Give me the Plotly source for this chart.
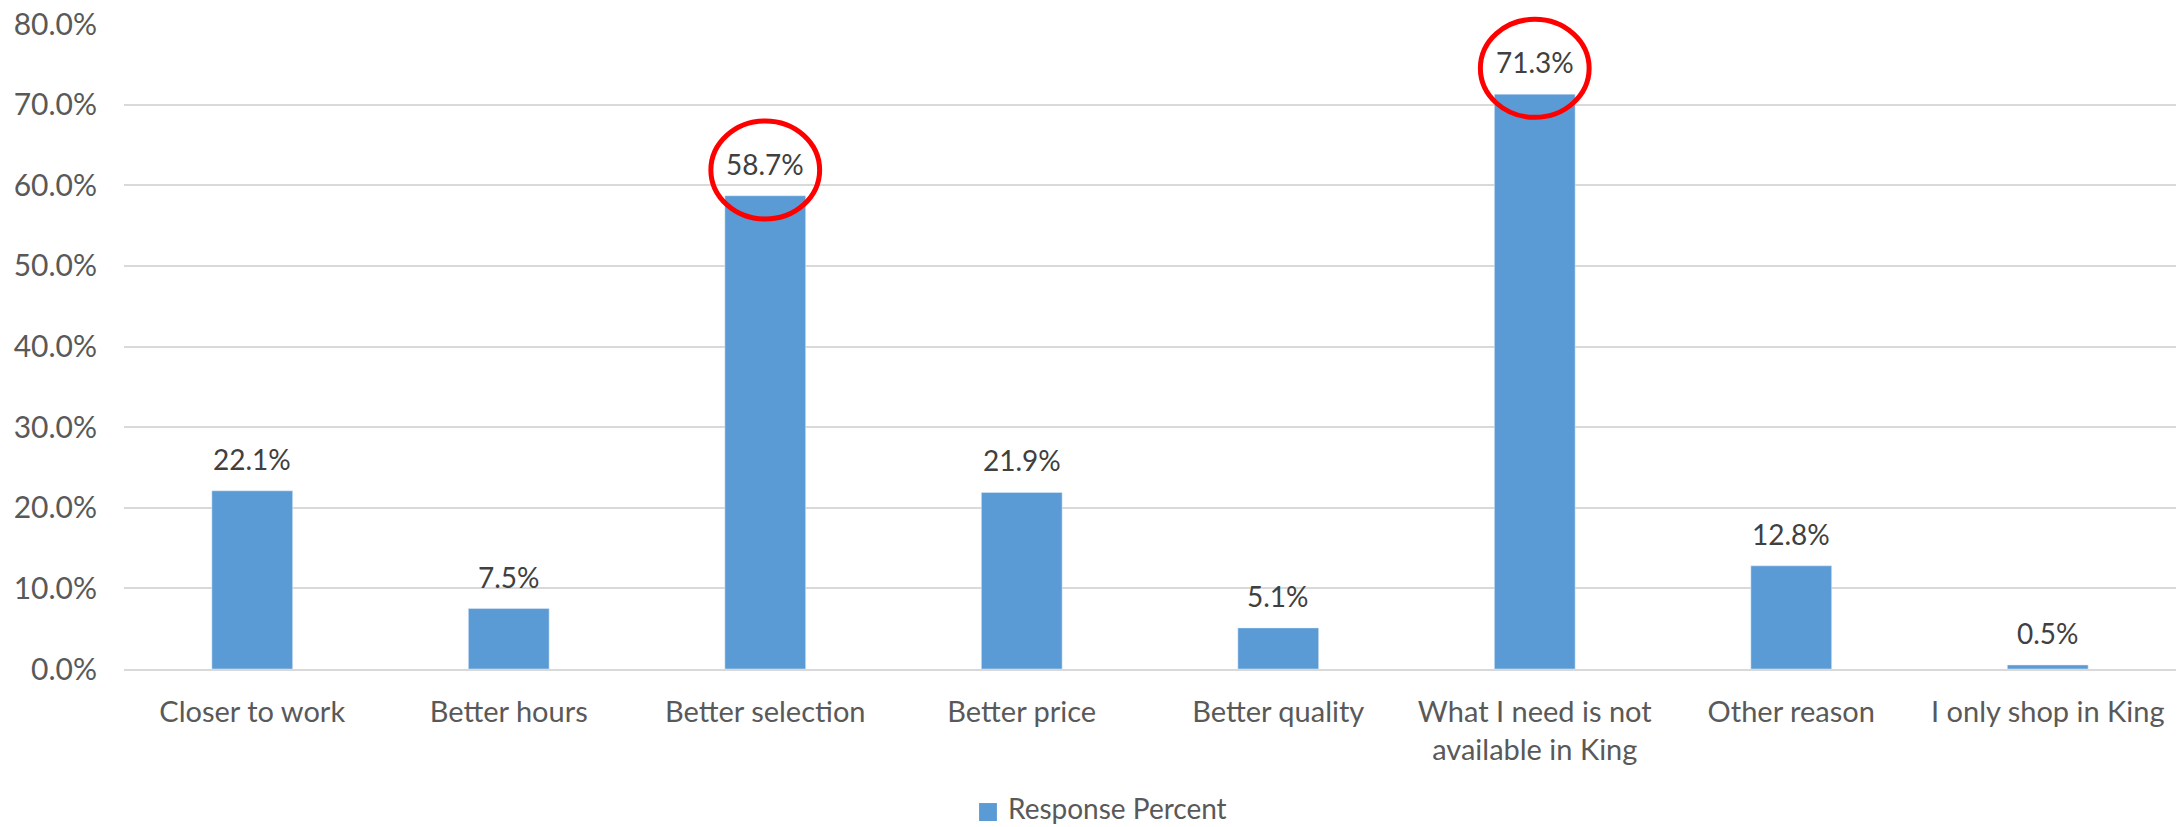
import plotly.graph_objects as go

# survey: reasons for shopping outside King
categories = ['Closer to work', 'Better hours', 'Better selection', 'Better price',
              'Better quality', 'What I need is not<br>available in King', 'Other reason',
              'I only shop in King']
response_pct = [22.1, 7.5, 58.7, 21.9, 5.1, 71.3, 12.8, 0.5]
highlight = [2, 5]   # labels circled in red
y_ticks = [0, 10, 20, 30, 40, 50, 60, 70, 80]

font_name = 'Lato'
grey = '#595959'
blue = '#5B9BD5'

fig = go.Figure()
fig.add_trace(go.Bar(x=categories, y=response_pct, name='Response Percent',
                     marker_color=blue, width=0.315, showlegend=False))

# data labels above the bars
for cat, v in zip(categories, response_pct):
    fig.add_annotation(x=cat, y=v, text='%.1f%%' % v, showarrow=False,
                       yanchor='bottom', yshift=13,
                       font=dict(family=font_name, size=28, color='#404040'))

# red circles round the two biggest answers (paper coords so they don't get clipped)
ymax = 80
for i in highlight:
    cx = (i + 0.5) / len(categories)
    cy = (response_pct[i] + 3.2) / ymax
    fig.add_shape(type='circle', xref='paper', yref='paper',
                  x0=cx - 0.0265, x1=cx + 0.0265,
                  y0=cy - 0.076, y1=cy + 0.076,
                  line=dict(color='#FF0000', width=5))

# legend drawn by hand so the swatch is as big as excel's
fig.add_shape(type='rect', xref='paper', yref='paper',
              x0=0.4167, x1=0.4254, y0=-0.2357, y1=-0.2078,
              line=dict(width=0), fillcolor=blue)
fig.add_annotation(xref='paper', yref='paper', x=0.4298, y=-0.2155,
                   xanchor='left', yanchor='middle', showarrow=False,
                   text='Response Percent',
                   font=dict(family=font_name, size=28, color=grey))

fig.update_layout(
    width=2178, height=827,
    margin=dict(l=124, r=2, t=24, b=158),
    plot_bgcolor='white', paper_bgcolor='white',
    font=dict(family=font_name, size=29, color=grey),
    bargap=0.685,
    showlegend=False,
)
fig.update_xaxes(showline=True, linecolor='#d9d9d9', linewidth=2, showgrid=False,
                 ticks='', tickfont=dict(size=29, color=grey), ticklabelstandoff=16,
                 automargin=False)
fig.update_yaxes(range=[0, ymax], tickvals=y_ticks,
                 ticktext=['%.1f%%' % t for t in y_ticks],
                 showgrid=True, gridcolor='#d9d9d9', gridwidth=2, zeroline=False,
                 showline=False, ticks='', tickfont=dict(size=30, color=grey),
                 ticklabelstandoff=26, automargin=False)

# page has an 8px body margin by default, drop it so the figure fills the window
fig.write_html('out.html', config={'displayModeBar': False},
               post_script="document.body.style.margin='0';")
